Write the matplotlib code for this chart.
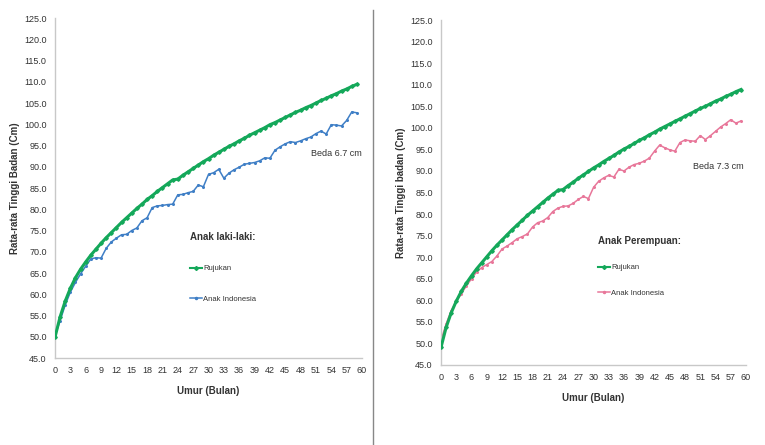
import matplotlib
matplotlib.use("Agg")
import matplotlib.pyplot as plt
from matplotlib.lines import Line2D

plt.rcParams['font.family'] = ['Liberation Sans', 'DejaVu Sans']

months = list(range(0, 60))
x_ticks = list(range(0, 61, 3))
y_ticks = [45.0 + 5.0 * i for i in range(17)]

# Reference (Rujukan) boys
ref_boys = [49.9, 54.7, 58.4, 61.4, 63.9, 65.9, 67.6, 69.2, 70.6, 72.0,
            73.3, 74.5, 75.7, 76.9, 78.0, 79.1, 80.2, 81.2, 82.3, 83.2,
            84.2, 85.1, 86.0, 86.9, 87.1, 88.0, 88.8, 89.6, 90.4, 91.2,
            91.9, 92.7, 93.4, 94.1, 94.8, 95.4, 96.1, 96.7, 97.4, 98.0,
            98.6, 99.2, 99.9, 100.4, 101.0, 101.6, 102.2, 102.8, 103.3, 103.9,
            104.4, 105.0, 105.6, 106.1, 106.7, 107.2, 107.8, 108.3, 108.9, 109.4]
# Anak Indonesia boys
ind_boys = [50.2, 53.8, 57.5, 60.5, 62.8, 64.8, 66.6, 68.3, 68.6, 68.5,
            70.8, 72.3, 73.2, 74.0, 74.1, 75.0, 75.6, 77.3, 78.0, 80.4,
            80.8, 80.9, 81.1, 81.2, 83.4, 83.5, 83.9, 84.2, 85.7, 85.3,
            88.2, 88.6, 89.4, 87.3, 88.5, 89.3, 89.9, 90.6, 90.8, 91.0,
            91.4, 92.1, 92.0, 93.9, 94.7, 95.4, 95.9, 95.7, 96.1, 96.6,
            97.0, 97.8, 98.4, 97.7, 99.9, 99.8, 99.6, 100.9, 102.9, 102.7]
# Reference (Rujukan) girls
ref_girls = [49.1, 53.7, 57.1, 59.8, 62.1, 64.0, 65.7, 67.3, 68.7, 70.1,
             71.5, 72.8, 74.0, 75.2, 76.4, 77.5, 78.6, 79.7, 80.7, 81.7,
             82.7, 83.7, 84.6, 85.5, 85.7, 86.6, 87.4, 88.3, 89.1, 89.9,
             90.7, 91.4, 92.2, 92.9, 93.6, 94.4, 95.1, 95.7, 96.4, 97.1,
             97.7, 98.4, 99.0, 99.7, 100.3, 100.9, 101.5, 102.1, 102.7, 103.3,
             103.9, 104.5, 105.0, 105.6, 106.2, 106.7, 107.3, 107.8, 108.4, 108.9]
# Anak Indonesia girls
ind_girls = [50.8, 54.5, 57.6, 59.8, 61.5, 63.4, 65.0, 66.6, 67.6, 68.3,
             69.0, 70.3, 71.9, 72.6, 73.4, 74.3, 74.8, 75.4, 77.0, 78.0,
             78.4, 79.2, 80.6, 81.4, 81.8, 81.9, 82.5, 83.4, 84.1, 83.6,
             86.2, 87.6, 88.4, 89.0, 88.6, 90.4, 90.0, 90.9, 91.5, 91.8,
             92.3, 93.0, 94.6, 96.0, 95.4, 94.9, 94.6, 96.6, 97.2, 97.0,
             96.9, 98.2, 97.3, 98.2, 99.2, 100.2, 101.0, 101.9, 101.1, 101.6]

GREEN = '#14a85a'
BLUE = '#3f7fc6'
PINK = '#e8779a'
GRID = '#c8c8c8'
TXT = '#333333'

fig = plt.figure(figsize=(7.65, 4.45), dpi=100)

def setup(ax, ylabel, xlabel):
    ax.set_xlim(0, 60)
    ax.set_ylim(45, 125)
    ax.set_xticks(x_ticks)
    ax.set_xticklabels([str(t) for t in x_ticks])
    ax.set_yticks(y_ticks)
    ax.set_yticklabels([f"{t:.1f}" for t in y_ticks])
    ax.tick_params(axis='both', labelsize=6.5, colors=TXT, length=0, pad=6)
    for s in ['top', 'right']:
        ax.spines[s].set_visible(False)
    for s in ['left', 'bottom']:
        ax.spines[s].set_color(GRID)
        ax.spines[s].set_linewidth(1.0)
    ax.set_ylabel(ylabel, fontsize=7, fontweight='bold', color=TXT, labelpad=3)
    ax.set_xlabel(xlabel, fontsize=7, fontweight='bold', color=TXT, labelpad=8)

def style_legend(leg):
    leg._legend_box.align = 'left'
    leg.get_title().set_fontweight('bold')
    leg.get_title().set_color(TXT)
    for t in leg.get_texts():
        t.set_color(TXT)

# Left panel
ax1 = fig.add_axes([0.0719, 0.1955, 0.4013, 0.764])
setup(ax1, 'Rata-rata Tinggi Badan (Cm)', 'Umur (Bulan)')
ax1.plot(months, ref_boys, color=GREEN, lw=2.2, marker='D', ms=1.8, zorder=3)
ax1.plot(months, ind_boys, color=BLUE, lw=1.1, marker='o', ms=1.2, zorder=2)
ax1.text(50.0, 92.5, 'Beda 6.7 cm', fontsize=6.5, color=TXT)
h1 = [Line2D([], [], color=GREEN, lw=1.5, marker='D', ms=2),
      Line2D([], [], color=BLUE, lw=1.1, marker='o', ms=1.5)]
leg1 = ax1.legend(h1, ['Rujukan', 'Anak Indonesia'], title='Anak laki-laki:',
                  loc='upper left', bbox_to_anchor=(0.44, 0.37), frameon=False,
                  fontsize=5.5, title_fontsize=7, labelspacing=3.0,
                  handlelength=1.6, handletextpad=0.1, borderaxespad=0,
                  borderpad=0)
style_legend(leg1)

# Right panel
ax2 = fig.add_axes([0.5765, 0.1798, 0.3987, 0.775])
setup(ax2, 'Rata-rata Tinggi badan (Cm)', 'Umur (Bulan)')
ax2.plot(months, ref_girls, color=GREEN, lw=2.2, marker='D', ms=1.8, zorder=3)
ax2.plot(months, ind_girls, color=PINK, lw=1.1, marker='o', ms=1.2, zorder=2)
ax2.text(49.5, 90.5, 'Beda 7.3 cm', fontsize=6.5, color=TXT)
h2 = [Line2D([], [], color=GREEN, lw=1.5, marker='D', ms=2),
      Line2D([], [], color=PINK, lw=1.1, marker='o', ms=1.5)]
leg2 = ax2.legend(h2, ['Rujukan', 'Anak Indonesia'], title='Anak Perempuan:',
                  loc='upper left', bbox_to_anchor=(0.515, 0.375), frameon=False,
                  fontsize=5.5, title_fontsize=7, labelspacing=2.4,
                  handlelength=1.6, handletextpad=0.1, borderaxespad=0,
                  borderpad=0)
style_legend(leg2)

# Divider line between panels
fig.add_artist(Line2D([373 / 765, 373 / 765], [0.0, 1 - 10 / 445],
                      transform=fig.transFigure, color='#888888', lw=1.0))

fig.savefig('out.png', dpi=100)
